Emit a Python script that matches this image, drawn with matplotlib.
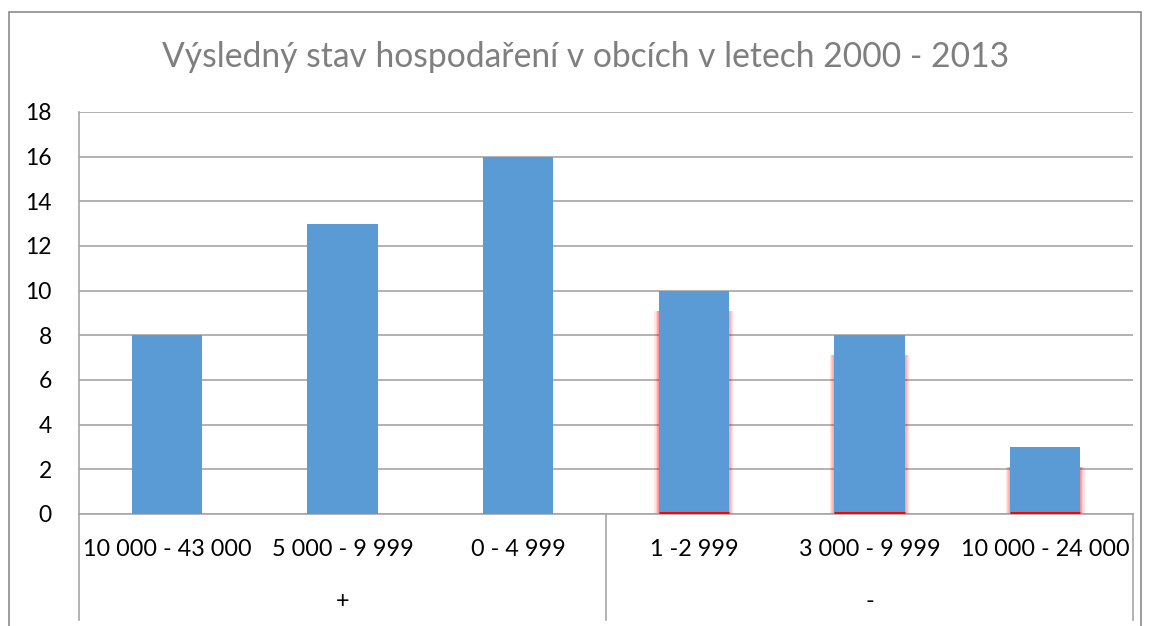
import matplotlib
matplotlib.use("Agg")
import matplotlib.pyplot as plt
from matplotlib.patches import Rectangle
from matplotlib.lines import Line2D
import matplotlib.transforms as mtransforms

categories = ["10 000 - 43 000", "5 000 - 9 999", "0 - 4 999",
              "1 -2 999", "3 000 - 9 999", "10 000 - 24 000"]
groups = ["+", "-"]
group_sizes = [3, 3]
values = [8, 13, 16, 10, 8, 3]
glow = [False, False, False, True, True, True]
title = "Výsledný stav hospodaření v obcích v letech 2000 - 2013"
yticks = [0, 2, 4, 6, 8, 10, 12, 14, 16, 18]

plt.rcParams['font.family'] = ['Lato', 'DejaVu Sans']

W, H = 1149, 626
fig = plt.figure(figsize=(W / 100, H / 100), dpi=100)
fig.patch.set_facecolor("white")

# outer chart border
fig.add_artist(Rectangle((9 / W, -0.01), (1141 - 9) / W, 1 - 12 / H + 0.01,
                         transform=fig.transFigure, fill=False,
                         edgecolor="#8c8c8c", linewidth=1.2))

left, right, top, bottom = 79, 1133, 112, 514
ax = fig.add_axes([left / W, 1 - bottom / H, (right - left) / W, (bottom - top) / H])

x = list(range(len(categories)))
bw = 0.4
blue = "#5b9bd5"

# red glow behind the negative bars
for xi, v, g in zip(x, values, glow):
    if g:
        for k in [0.024, 0.018, 0.012, 0.007, 0.003]:
            ax.bar(xi, v - 0.9, width=bw + 2 * k, bottom=0.0,
                   color="red", alpha=0.10, zorder=2, linewidth=0)
ax.bar(x, values, width=bw, color=blue, zorder=3, linewidth=0)
for xi, g in zip(x, glow):
    if g:
        ax.plot([xi - bw / 2, xi + bw / 2], [0.06, 0.06], color="red",
                linewidth=2.2, zorder=4, solid_capstyle="butt")

ax.set_xlim(-0.5, len(categories) - 0.5)
ax.set_ylim(0, 18)
ax.set_yticks(yticks)
ax.set_yticklabels([str(t) for t in yticks], fontsize=16.5)
ax.tick_params(axis="y", length=0, pad=19.5)
ax.set_xticks([])
ax.grid(axis="y", color="#a6a6a6", linewidth=1.2, zorder=1)
ax.set_axisbelow(True)
for s in ["top", "right"]:
    ax.spines[s].set_visible(False)
ax.spines["left"].set_color("#a6a6a6")
ax.spines["bottom"].set_color("#a6a6a6")
ax.spines["left"].set_linewidth(1.2)
ax.spines["bottom"].set_linewidth(1.2)

trans = mtransforms.blended_transform_factory(ax.transData, ax.transAxes)
depth = (620 - bottom) / (bottom - top)
for xi, lab in enumerate(categories):
    ax.text(xi, -(549 - bottom) / (bottom - top), lab, transform=trans,
            ha="center", va="center", fontsize=16.8, color="black")

# group separators and labels
start = 0
seps = [-0.5]
for g, n in zip(groups, group_sizes):
    center = start + (n - 1) / 2
    ax.text(center, -(601 - bottom) / (bottom - top), g, transform=trans,
            ha="center", va="center", fontsize=16.8, color="black")
    start += n
    seps.append(start - 0.5)
for sx in seps:
    ax.add_line(Line2D([sx, sx], [0, -depth], transform=trans, color="#a6a6a6",
                       linewidth=1.2, clip_on=False))

fig.text(586 / W, 1 - 57 / H, title, ha="center", va="center",
         fontsize=24.2, color="#7f7f7f")

fig.savefig("out.png", dpi=100, facecolor="white")
